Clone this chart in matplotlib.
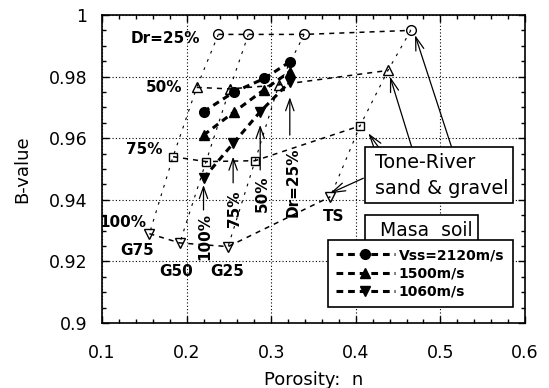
import matplotlib
matplotlib.use('Agg')
import matplotlib.pyplot as plt
from matplotlib.patches import Rectangle
from matplotlib.ticker import MultipleLocator, FormatStrFormatter

# Tone-River sand & gravel (open symbols), one row per relative density Dr.
# Columns are the gradings G75, G50, G25, TS.
n_dr25 = [0.2375, 0.273, 0.339, 0.465]
b_dr25 = [0.9937, 0.9937, 0.9937, 0.995]
n_dr50 = [0.212, 0.251, 0.309, 0.438]
b_dr50 = [0.9765, 0.976, 0.9773, 0.982]
n_dr75 = [0.184, 0.223, 0.281, 0.405]
b_dr75 = [0.954, 0.9524, 0.9527, 0.964]
n_dr100 = [0.156, 0.192, 0.249, 0.370]
b_dr100 = [0.929, 0.926, 0.9248, 0.941]
dr_labels = ['Dr=25%', '50%', '75%', '100%']
grade_labels = ['G75', 'G50', 'G25', 'TS']

# Masa soil (filled symbols), Dr = 100, 75, 50, 25 %
n_2120 = [0.220, 0.256, 0.292, 0.322]
b_2120 = [0.9686, 0.975, 0.9794, 0.9848]
n_1500 = [0.220, 0.256, 0.291, 0.322]
b_1500 = [0.961, 0.9685, 0.9756, 0.9816]
n_1060 = [0.220, 0.255, 0.287, 0.322]
b_1060 = [0.947, 0.9583, 0.9686, 0.9783]
masa_labels = ['Vss=2120m/s', '1500m/s', '1060m/s']
masa_dr_labels = ['100%', '75%', '50%', 'Dr=25%']

fig = plt.figure(figsize=(5.49, 3.88), dpi=100)
ax = fig.add_axes([102/549, 1-323/388, 423/549, 308/388])

ax.set_xlim(0.1, 0.6)
ax.set_ylim(0.9, 1.0)
ax.xaxis.set_major_locator(MultipleLocator(0.1))
ax.xaxis.set_minor_locator(MultipleLocator(0.02))
ax.yaxis.set_major_locator(MultipleLocator(0.02))
ax.yaxis.set_minor_locator(MultipleLocator(0.005))
ax.xaxis.set_major_formatter(FormatStrFormatter('%g'))
ax.yaxis.set_major_formatter(FormatStrFormatter('%g'))
ax.tick_params(which='both', direction='in', top=True, right=True, width=1, labelsize=12.5)
ax.tick_params(which='major', length=5)
ax.tick_params(which='minor', length=3)
ax.tick_params(axis='y', pad=10.5)
ax.tick_params(axis='x', pad=15)
for s in ax.spines.values():
    s.set_linewidth(1.2)
ax.grid(True, which='major', color='black', lw=0.8, linestyle=(0, (1, 2)))

ax.set_xlabel('Porosity:  n', fontsize=13)
ax.set_ylabel('B-value', fontsize=13)
ax.xaxis.set_label_coords(0.5, -0.156)
ax.yaxis.set_label_coords(-0.168, 0.5)

rows = [(n_dr25, b_dr25, 'o', 7), (n_dr50, b_dr50, '^', 7),
        (n_dr75, b_dr75, 's', 6), (n_dr100, b_dr100, 'v', 7)]

# grading columns, thin dotted
for i in range(4):
    ax.plot([r[0][i] for r in rows], [r[1][i] for r in rows], color='black',
            lw=0.8, linestyle=(0, (2.5, 5.5)), zorder=2)

# density rows, dashed with open markers
for n, b, m, ms in rows:
    ax.plot(n, b, color='black', lw=1.1, linestyle=(0, (3.3, 3.3)), marker=m,
            ms=ms, mfc='none', mec='black', mew=1, zorder=3)

# Masa soil series
masa = [(n_2120, b_2120, 'o', 7), (n_1500, b_1500, '^', 6.5), (n_1060, b_1060, 'v', 6.5)]
handles = []
for (n, b, m, ms), lab in zip(masa, masa_labels):
    h, = ax.plot(n, b, color='black', lw=2.2, linestyle=(0, (2.2, 1.6)), marker=m,
                 ms=ms, mfc='black', mec='black', label=lab, zorder=4)
    handles.append(h)

bold = dict(fontsize=11, fontweight='bold', ha='center', va='center')

# Dr labels on the left of each row
ax.text(0.175, 0.9924, dr_labels[0], **bold)
ax.text(0.1733, 0.9766, dr_labels[1], **bold)
ax.text(0.1496, 0.9562, dr_labels[2], **bold)
ax.text(0.1242, 0.9326, dr_labels[3], clip_on=False, **bold)

# grading labels
ax.text(0.142, 0.9237, grade_labels[0], **bold)
ax.text(0.1875, 0.9166, grade_labels[1], **bold)
ax.text(0.2478, 0.9166, grade_labels[2], **bold)
ax.text(0.3736, 0.9347, grade_labels[3], **bold)

# vertical arrows and rotated Dr labels for the Masa soil points
arr = dict(arrowstyle='->,head_length=0.7,head_width=0.25', color='black', lw=0.9,
           shrinkA=0, shrinkB=0, mutation_scale=12)
tails = [0.9367, 0.9455, 0.9497, 0.961]
gaps = [0.0022, 0.0043, 0.0043, 0.005]
label_pos = [(0.2217, 0.928), (0.2572, 0.937), (0.2895, 0.942), (0.326, 0.9458)]
for i in range(4):
    ax.annotate('', xy=(n_1060[i], b_1060[i] - gaps[i]), xytext=(n_1060[i], tails[i]),
                arrowprops=arr, zorder=5)
    ax.text(label_pos[i][0], label_pos[i][1], masa_dr_labels[i], rotation=90, **bold)

# Tone-River box with pointers to the TS column
tr = ax.transAxes
ax.add_patch(Rectangle((0.6217, 0.3896), 0.35, 0.1818, transform=tr,
                       fc='white', ec='black', lw=1.2, zorder=6))
ax.text(0.6454, 0.5032, 'Tone-River', transform=tr, fontsize=13.8, zorder=7)
ax.text(0.6454, 0.4188, 'sand & gravel', transform=tr, fontsize=13.8, zorder=7)
ptr = dict(arrowstyle='->,head_length=0.8,head_width=0.25', color='black', lw=0.9,
           shrinkA=0, shrinkB=0, mutation_scale=12)
ax.annotate('', xy=(0.47, 0.9935), xytext=(0.5131, 0.9572), arrowprops=ptr, zorder=5)
ax.annotate('', xy=(0.4404, 0.980), xytext=(0.466, 0.9572), arrowprops=ptr, zorder=5)
ax.annotate('', xy=(0.4148, 0.9616), xytext=(0.4266, 0.9572), arrowprops=ptr, zorder=5)
ax.annotate('', xy=(0.3695, 0.9421), xytext=(0.4089, 0.947), arrowprops=ptr, zorder=5)

# Masa soil box, partly behind the legend
ax.add_patch(Rectangle((0.6217, 0.25), 0.2672, 0.1006, transform=tr,
                       fc='white', ec='black', lw=1.2, zorder=6))
ax.text(0.657, 0.2825, 'Masa  soil', transform=tr, fontsize=13.5, zorder=7)

leg = ax.legend(handles=handles, loc='upper left', bbox_to_anchor=(0.534, 0.2695),
                borderaxespad=0, fancybox=False, framealpha=1, edgecolor='black',
                handlelength=4.2, handletextpad=0.3, labelspacing=0.3, borderpad=0.6,
                prop=dict(size=10, weight='bold'))
leg.get_frame().set_linewidth(1.2)
leg.set_zorder(8)

fig.savefig('out.png', dpi=100)
